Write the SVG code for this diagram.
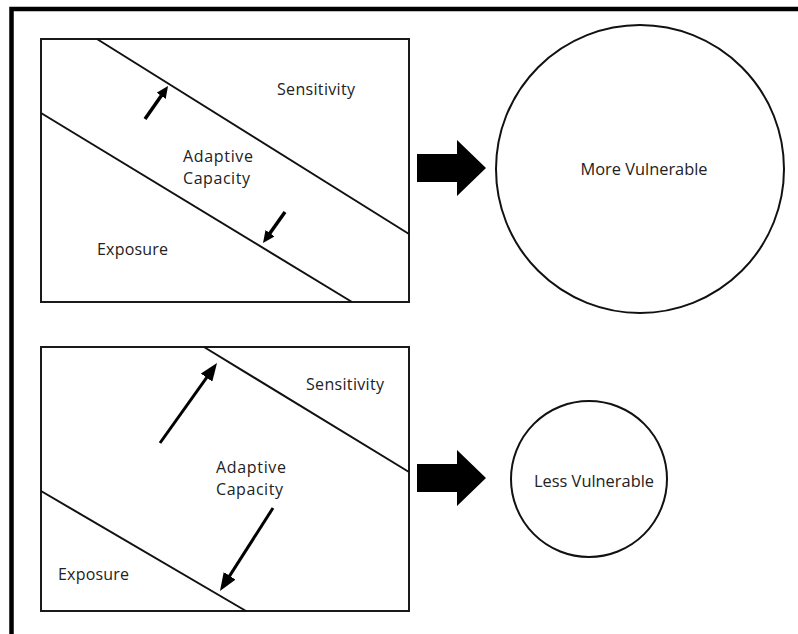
<svg xmlns="http://www.w3.org/2000/svg" width="798" height="634" viewBox="0 0 798 634">
<style>
.box{fill:#fff;stroke:#1a1a1a;stroke-width:2}
.div{stroke:#111;stroke-width:2;fill:none}
.circ{fill:#fff;stroke:#111;stroke-width:2}
.lbl{font-family:"Open Sans","Liberation Sans",sans-serif;font-size:16px;fill:#222}
.clbl{font-family:"Open Sans","Liberation Sans",sans-serif;font-size:16.4px;fill:#222;text-anchor:middle}
.sm{stroke:#000;stroke-width:3.5;fill:none}
.lg{stroke:#000;stroke-width:3;fill:none}
.blk{fill:#000}
</style>
<defs>
<marker id="hs" markerUnits="userSpaceOnUse" markerWidth="12" markerHeight="11" refX="6" refY="5.5" orient="auto"><path d="M0,0 L12,5.5 L0,11 z" fill="#000"/></marker>
<marker id="hl" markerUnits="userSpaceOnUse" markerWidth="18" markerHeight="14" refX="9" refY="7" orient="auto"><path d="M0,0 L18,7 L0,14 z" fill="#000"/></marker>
</defs>
<rect width="798" height="634" fill="#fff"/>
<rect x="11.5" y="9" width="820" height="660" fill="none" stroke="#000" stroke-width="4.5"/>

<g id="top-panel">
<rect class="box" x="41" y="39" width="368" height="263"/>
<line class="div" x1="97" y1="39" x2="409" y2="234"/>
<line class="div" x1="41" y1="113" x2="352" y2="302"/>
<text class="lbl" x="277" y="95" textLength="78">Sensitivity</text>
<text class="lbl" x="183" y="162" textLength="70">Adaptive</text>
<text class="lbl" x="183" y="184" textLength="67">Capacity</text>
<text class="lbl" x="97" y="255" textLength="71">Exposure</text>
</g>

<g id="bottom-panel">
<rect class="box" x="41" y="347" width="368" height="264"/>
<line class="div" x1="204" y1="347" x2="409" y2="472"/>
<line class="div" x1="41" y1="491" x2="246" y2="611"/>
<text class="lbl" x="306" y="390" textLength="78">Sensitivity</text>
<text class="lbl" x="216" y="473" textLength="70">Adaptive</text>
<text class="lbl" x="216" y="495" textLength="67">Capacity</text>
<text class="lbl" x="58" y="580" textLength="71">Exposure</text>
</g>

<g id="more-vulnerable">
<circle class="circ" cx="640" cy="169" r="144"/>
<text class="clbl" x="644" y="175">More Vulnerable</text>
</g>

<g id="less-vulnerable">
<circle class="circ" cx="589" cy="479" r="78"/>
<text class="clbl" x="594" y="487">Less Vulnerable</text>
</g>

<g id="connectors">
<line class="sm" x1="145" y1="119" x2="164.6" y2="90.9" marker-end="url(#hs)"/>
<line class="sm" x1="285" y1="212" x2="266.5" y2="238.1" marker-end="url(#hs)"/>
<line class="lg" x1="160" y1="443" x2="211.8" y2="370.3" marker-end="url(#hl)"/>
<line class="lg" x1="273" y1="508" x2="224.8" y2="583.4" marker-end="url(#hl)"/>
<polygon class="blk" points="417,154 457,154 457,140 486,168 457,196 457,182 417,182"/>
<polygon class="blk" points="417,464 457,464 457,450 486,478 457,506 457,492 417,492"/>
</g>
</svg>
